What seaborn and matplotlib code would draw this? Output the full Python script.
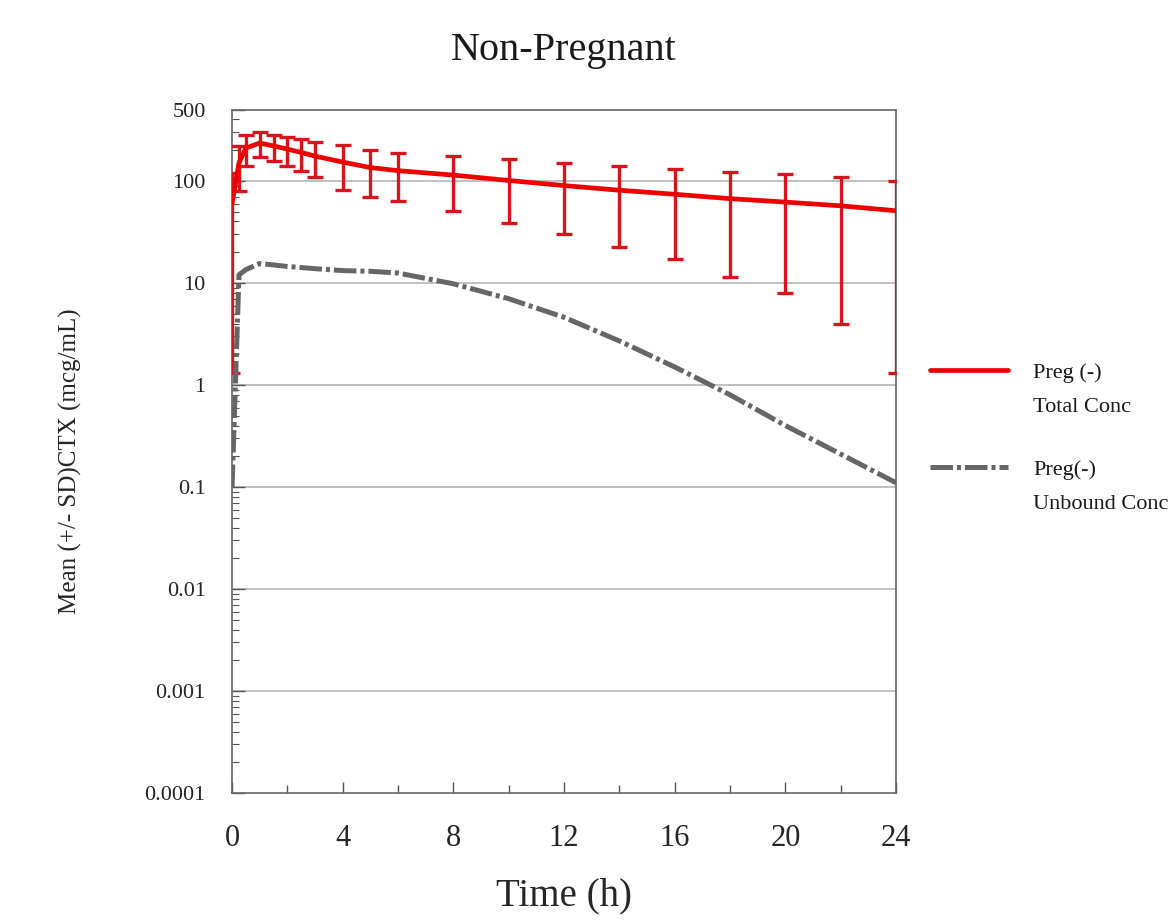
import numpy as np
import pandas as pd
import matplotlib
matplotlib.use("Agg")
import matplotlib.pyplot as plt
import seaborn as sns
from matplotlib.ticker import LogLocator, FixedLocator, NullFormatter, FuncFormatter

# Total cefotaxime concentration (mean and SD)
total_time = [0, 0.25, 0.5, 1, 1.5, 2, 2.5, 3, 4, 5, 6, 8, 10, 12, 14, 16, 18, 20, 22, 24]
total_mean = [60, 150, 210, 235, 220, 205, 190, 175, 153, 135, 126, 114, 101, 90, 81, 74, 67, 62, 57, 51]
total_sd = [58.7, 70, 70, 65, 65, 65, 65, 65, 72, 65, 63, 63, 62, 60, 58.5, 57, 55.5, 54, 53, 49.7]

# Unbound concentration (mean)
unbound_time = [0, 0.25, 0.5, 1, 1.5, 2, 3, 4, 5, 6, 8, 10, 12, 14, 16, 18, 20, 22, 24]
unbound_mean = [0.1, 12, 13.5, 15.5, 15, 14.5, 13.8, 13.2, 13, 12.5, 9.8, 7, 4.6, 2.7, 1.5, 0.8, 0.4, 0.21, 0.11]

title = "Non-Pregnant"
x_label = "Time (h)"
y_label = "Mean (+/- SD)CTX (mcg/mL)"
legend_first = ["Preg (-)", "Preg(-)"]
legend_second = ["Total Conc", "Unbound Conc"]
x_ticks = [0, 4, 8, 12, 16, 20, 24]
y_ticks = [0.0001, 0.001, 0.01, 0.1, 1, 10, 100, 500]

sns.set_theme(style="white")
plt.rcParams["font.family"] = ["Liberation Serif", "DejaVu Serif"]
plt.rcParams["text.color"] = "#1a1a1a"

total_df = pd.DataFrame({"time": total_time, "conc": total_mean, "sd": total_sd})
unbound_df = pd.DataFrame({"time": unbound_time, "conc": unbound_mean})

fig = plt.figure(figsize=(11.72, 9.21), dpi=100)
ax = fig.add_axes([0.198, 0.139, 0.5665, 0.742])

ax.set_yscale("log")
ax.set_ylim(0.0001, 500)
ax.set_xlim(0, 24)

# horizontal decade gridlines
for v in [0.001, 0.01, 0.1, 1, 10, 100]:
    ax.axhline(v, color="#b4b4b4", lw=1.2, zorder=0)

# SD error bars on total concentration
ax.errorbar(total_df["time"], total_df["conc"], yerr=total_df["sd"], fmt="none",
            ecolor="#d8141f", elinewidth=2.4, capsize=6, capthick=2.4, zorder=3)

sns.lineplot(data=total_df, x="time", y="conc", ax=ax, color="#ee0000", lw=3.4,
             label=legend_first[0], zorder=4)
sns.lineplot(data=unbound_df, x="time", y="conc", ax=ax, color="#666666", lw=3.6,
             label=legend_first[1], zorder=4)
ax.lines[-1].set_linestyle((0, (4.5, 0.8, 0.8, 0.8)))

# ticks
ax.xaxis.set_major_locator(FixedLocator(x_ticks))
ax.xaxis.set_minor_locator(FixedLocator(list(range(0, 25, 2))))
ax.yaxis.set_major_locator(FixedLocator(y_ticks))
ax.yaxis.set_minor_locator(LogLocator(base=10, subs=np.arange(2, 10), numticks=20))
ax.yaxis.set_minor_formatter(NullFormatter())
ax.yaxis.set_major_formatter(FuncFormatter(lambda v, p: ("%g" % v) if v >= 0.001 else "0.0001"))
ax.tick_params(axis="both", which="both", direction="in", color="#555555",
               left=True, bottom=True)
ax.tick_params(axis="y", which="major", length=9, width=1, labelsize=16, pad=19)
ax.tick_params(axis="y", which="minor", length=5, width=0.8)
ax.tick_params(axis="x", which="major", length=8, width=1, labelsize=22, pad=22)
ax.tick_params(axis="x", which="minor", length=6, width=1)

for s in ax.spines.values():
    s.set_color("#666666")
    s.set_linewidth(1.2)

ax.set_title(title, fontsize=29, pad=36)
ax.set_xlabel(x_label, fontsize=28, labelpad=18)
ax.set_ylabel(y_label, fontsize=18)
ax.yaxis.set_label_coords(-0.226, 0.485)

ax.get_legend().remove()
leg = fig.legend(*ax.get_legend_handles_labels(), loc="upper left",
                 bbox_to_anchor=(0.7935, 0.607), bbox_transform=fig.transFigure,
                 frameon=False, fontsize=16, handlelength=3.5, handletextpad=1.15,
                 labelspacing=3.45, borderpad=0, borderaxespad=0)
fig.canvas.draw()
for txt, extra in zip(leg.get_texts(), legend_second):
    ax.annotate(extra, xy=(0, 0), xycoords=txt, xytext=(0, -25),
                textcoords="offset points", fontsize=16, va="bottom", ha="left",
                annotation_clip=False)

fig.savefig("out.png", dpi=100)
